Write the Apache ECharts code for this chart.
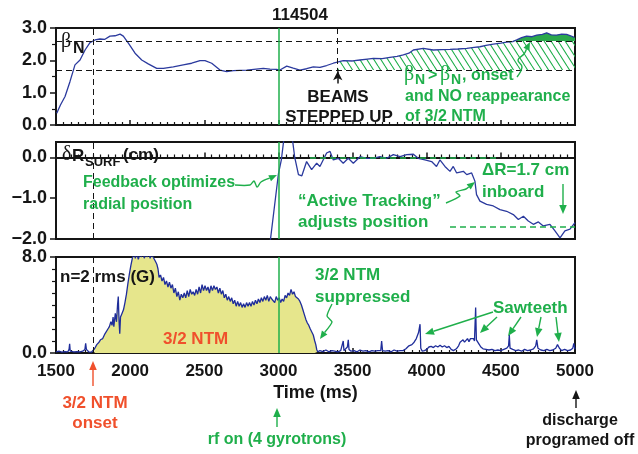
<!DOCTYPE html>
<html><head><meta charset="utf-8">
<script src="https://cdn.jsdelivr.net/npm/echarts@6/dist/echarts.min.js"></script>
<style>html,body{margin:0;padding:0;background:#fff}#c{width:638px;height:454px}</style>
</head><body><div id="c"></div>
<script>
// ---------- data ----------
const xTicks = [1500, 2000, 2500, 3000, 3500, 4000, 4500, 5000];
const betaTicks = [0, 1, 2, 3];
const drTicks = [-2, -1, 0];
const n2Ticks = [0, 8];

const betaT = [1505,1530,1561,1594,1628,1662,1696,1729,1763,1797,1830,1864,1898,1932,1954,1988,2033,2078,2122,2179,2224,2291,2358,2415,2471,2505,2550,2606,2651,2696,2786,2898,2943,2988,3010,3056,3100,3145,3190,3235,3280,3325,3370,3437,3500,3550,3600,3640,3700,3752,3800,3842,3880,3910,3977,4044,4100,4157,4210,4270,4320,4359,4400,4449,4500,4539,4580,4607,4640,4674,4710,4742,4780,4809,4840,4876,4910,4944,4970,4995];
const betaV = [0.36,0.62,0.88,1.34,1.86,2.01,2.32,2.55,2.63,2.66,2.65,2.75,2.76,2.81,2.75,2.53,2.22,2.01,1.89,1.75,1.75,1.80,1.86,1.91,1.99,1.99,1.91,1.70,1.65,1.68,1.70,1.75,1.73,1.72,1.70,1.82,1.76,1.70,1.74,1.80,1.78,1.84,1.91,1.99,1.98,2.01,2.04,2.06,2.05,2.09,2.12,2.17,2.22,2.32,2.37,2.32,2.33,2.34,2.35,2.37,2.40,2.42,2.46,2.50,2.53,2.56,2.58,2.63,2.70,2.75,2.73,2.78,2.80,2.85,2.79,2.78,2.81,2.80,2.76,2.71];
const betaOnset = 1.7;     // lower dashed level
const betaHigh = 2.6;      // upper dashed level
const beamsT = 3400;       // beams stepped up
const ntmOnsetT = 1750;
const rfOnT = 3000;

const drT = [2945,3000,3020,3035,3050,3080,3096,3110,3135,3158,3190,3224,3258,3280,3325,3348,3370,3404,3437,3471,3505,3550,3595,3640,3685,3730,3775,3820,3865,3910,3943,3988,4033,4066,4089,4123,4157,4179,4202,4247,4270,4303,4325,4336,4359,4404,4449,4494,4539,4584,4618,4652,4685,4719,4753,4786,4831,4865,4899,4932,4966,5000];
const drV = [-2.05,-0.40,-0.05,0.40,0.75,0.75,0.40,0.0,-0.42,-0.45,-0.10,-0.30,-0.14,-0.22,0.11,0.15,-0.06,-0.02,-0.14,-0.02,-0.14,0.02,-0.02,-0.02,0.02,-0.02,0.07,0.02,0.07,0.08,-0.02,-0.06,-0.10,-0.22,-0.06,-0.22,-0.34,-0.22,-0.38,-0.34,-0.42,-0.38,-0.58,-0.91,-1.07,-1.15,-1.19,-1.28,-1.32,-1.40,-1.52,-1.44,-1.56,-1.64,-1.58,-1.68,-1.64,-1.80,-1.97,-1.80,-1.76,-1.60];
const drRef0 = [3213, 4494];   // dashed at 0.0
const drRef1 = [4157, 5000];   // dashed at -1.7
const drLow = -1.7;

const n2T = [1500,1520,1540,1560,1580,1588,1592,1596,1620,1640,1660,1680,1695,1700,1705,1720,1740,1760,1775,1790,1800,1815,1830,1840,1850,1860,1870,1878,1885,1890,1900,1908,1915,1920,1925,1930,1935,1945,1955,1965,1975,1985,1995,2005,2015,2025,2035,2045,2055,2065,2075,2085,2095,2105,2115,2125,2135,2145,2155,2165,2172,2180,2188,2195,2205,2215,2225,2235,2245,2255,2265,2275,2285,2295,2305,2315,2325,2335,2345,2355,2365,2375,2385,2395,2405,2415,2425,2435,2445,2455,2465,2475,2485,2495,2505,2515,2525,2535,2545,2555,2565,2575,2585,2595,2605,2615,2625,2635,2645,2655,2665,2675,2685,2695,2705,2715,2725,2735,2745,2755,2765,2775,2785,2795,2805,2815,2825,2835,2845,2855,2865,2875,2885,2895,2905,2915,2925,2935,2945,2955,2965,2975,2985,2995,3005,3015,3025,3035,3045,3055,3065,3075,3085,3095,3105,3115,3125,3135,3145,3155,3165,3175,3185,3195,3205,3215,3225,3235,3245,3252,3258,3265,3280,3300,3320,3340,3360,3380,3400,3420,3432,3437,3442,3455,3465,3471,3476,3490,3510,3530,3550,3570,3590,3610,3630,3650,3670,3690,3696,3702,3720,3740,3760,3780,3800,3820,3840,3860,3880,3900,3915,3930,3945,3955,3960,3970,3985,4000,4015,4030,4045,4060,4075,4090,4105,4120,4135,4150,4165,4180,4200,4215,4225,4235,4245,4255,4265,4275,4285,4295,4305,4315,4322,4330,4335,4345,4355,4365,4380,4400,4420,4440,4460,4480,4500,4520,4540,4552,4557,4562,4580,4600,4620,4640,4660,4680,4700,4720,4735,4742,4750,4770,4790,4810,4830,4850,4870,4882,4888,4895,4910,4930,4950,4970,4985,4992,5000];
const n2V = [0.1,0.15,0.08,0.12,0.1,0.3,0.77,0.15,0.1,0.12,0.1,0.15,0.3,0.8,0.3,0.1,0.08,0.35,0.7,0.9,1.1,1.2,1.6,1.5,2.0,2.2,2.6,2.3,3.0,2.2,3.3,2.6,4.0,4.7,2.7,1.6,3.0,3.3,3.6,4.2,4.9,5.8,6.6,7.3,7.9,8.3,7.9,8.3,7.8,8.2,8.0,8.4,7.9,8.2,8.0,8.3,7.9,8.2,8.0,8.1,7.6,7.4,7.0,6.3,6.5,6.0,6.3,5.7,6.0,5.5,5.9,5.4,5.7,5.0,5.4,4.7,5.1,4.4,4.9,4.6,5.0,4.6,5.2,4.7,5.3,4.9,5.1,4.8,5.3,4.9,5.5,5.0,5.7,5.2,5.6,5.2,5.5,5.0,5.6,5.2,5.6,5.3,5.5,5.0,5.4,4.9,5.2,4.6,4.9,4.4,4.7,4.3,4.6,4.1,4.4,3.9,4.3,3.9,4.2,3.8,4.1,3.8,4.2,3.9,4.2,3.9,4.3,4.0,4.4,4.1,4.5,4.2,4.6,4.3,4.7,4.4,4.8,4.3,4.7,4.5,4.6,4.2,4.7,4.4,4.6,4.2,4.5,4.3,4.8,4.6,5.0,4.8,5.3,4.9,5.1,4.7,4.8,4.5,4.3,4.0,3.6,3.2,2.8,2.5,2.3,2.0,1.9,1.5,1.0,0.7,0.3,0.1,0.2,0.12,0.25,0.1,0.2,0.15,0.1,0.2,0.25,1.0,0.2,0.3,0.5,1.1,0.3,0.15,0.2,0.1,0.25,0.15,0.2,0.1,0.2,0.15,0.2,0.2,1.0,0.2,0.15,0.2,0.1,0.25,0.15,0.2,0.2,0.35,0.6,0.7,0.9,1.2,1.7,2.4,0.4,0.15,0.2,0.3,0.5,0.55,0.45,0.6,0.5,0.65,0.5,0.6,0.45,0.55,0.3,0.2,0.35,0.6,0.9,0.8,1.1,0.9,1.0,1.2,0.95,1.2,1.1,1.2,1.0,3.8,1.1,1.0,0.7,0.5,0.35,0.3,0.25,0.3,0.2,0.25,0.2,0.3,0.4,0.6,1.5,0.4,0.3,0.2,0.25,0.15,0.3,0.2,0.25,0.35,0.6,1.1,0.4,0.25,0.2,0.3,0.2,0.25,0.4,0.7,0.8,0.4,0.2,0.3,0.2,0.25,0.4,0.8,0.3];
const ntmSpan = [1750, 3265];   // yellow-filled NTM interval

// ---------- styles ----------
const FF = "'Liberation Sans', Arial, Helvetica, sans-serif";
const SERIF = "'Liberation Serif', 'DejaVu Serif', serif";
const BLUE = '#2b3a9e', GREEN = '#1faf4b', RED = '#f0502c', YEL = '#e6e68c', INK = '#151515';

const zip = (a, b) => a.map((t, i) => [t, b[i]]);
const fmt = v => (v < 0 ? '\u2212' : '') + Math.abs(v).toFixed(1);

// hatch pattern
const pc = document.createElement('canvas'); pc.width = 7; pc.height = 11;
const pg = pc.getContext('2d'); pg.strokeStyle = GREEN; pg.lineWidth = 1.1;
pg.beginPath(); pg.moveTo(0, 0); pg.lineTo(7, 11); pg.moveTo(-7, 0); pg.lineTo(0, 11); pg.moveTo(7, 0); pg.lineTo(14, 11); pg.stroke();

function interp(ts, vs, t) {
  for (let i = 1; i < ts.length; i++) if (ts[i] >= t) {
    const f = (t - ts[i-1]) / (ts[i] - ts[i-1]); return vs[i-1] + f * (vs[i] - vs[i-1]);
  }
  return vs[vs.length - 1];
}

const grids = [
  { left: 56, top: 28, width: 519, height: 97 },
  { left: 56, top: 142, width: 519, height: 97 },
  { left: 56, top: 257, width: 519, height: 96 }
].map(g => Object.assign(g, { show: true, borderColor: INK, borderWidth: 2, backgroundColor: 'transparent' }));

const xAxes = [0, 1, 2].map(i => ({
  gridIndex: i, type: 'value', min: xTicks[0], max: xTicks[xTicks.length - 1], interval: 500,
  axisLine: { show: true, lineStyle: { color: INK, width: 2 } },
  axisTick: { show: true, inside: true, length: 5, lineStyle: { color: INK, width: 1.5 } },
  minorTick: { show: true, splitNumber: 10, length: 3, lineStyle: { color: INK, width: 1.2 } },
  splitLine: { show: false },
  axisLabel: { show: i === 2, color: INK, fontFamily: FF, fontWeight: 'bold', fontSize: 17, margin: 10, formatter: v => String(v) },
  name: i === 2 ? 'Time (ms)' : '', nameLocation: 'middle', nameGap: 31,
  nameTextStyle: { color: INK, fontFamily: FF, fontWeight: 'bold', fontSize: 18 }
}));

const yBase = (i, min, max, interval, minorSplit) => ({
  gridIndex: i, type: 'value', min, max, interval,
  axisLine: { show: true, lineStyle: { color: INK, width: 2 } },
  axisTick: { show: true, inside: false, length: 6, lineStyle: { color: INK, width: 1.5 } },
  minorTick: { show: minorSplit > 0, splitNumber: minorSplit || 5, length: 4, lineStyle: { color: INK, width: 1.2 } },
  splitLine: { show: false },
  axisLabel: { color: INK, fontFamily: FF, fontWeight: 'bold', fontSize: 18, margin: 9, formatter: fmt, showMaxLabel: i !== 1 }
});
const yAxes = [
  yBase(0, betaTicks[0], betaTicks[betaTicks.length - 1], 1, 2),
  yBase(1, drTicks[0], 0.38, 1, 0),
  yBase(2, n2Ticks[0], n2Ticks[1], 8, 8)
];

const dashK = { color: INK, width: 1, type: [6, 4] };
const vGreen = { xAxis: rfOnT, lineStyle: { color: GREEN, width: 1.5, type: 'solid' } };
const vOnset = { xAxis: ntmOnsetT, lineStyle: dashK };
const ml = (data) => ({ silent: true, symbol: 'none', label: { show: false }, data, animation: false });

const betaHatchRender = (params, api) => {
  const pts = [api.coord([beamsT, betaOnset]), api.coord([beamsT, Math.min(betaHigh, interp(betaT, betaV, beamsT))])];
  betaT.forEach((t, i) => { if (t > beamsT) pts.push(api.coord([t, Math.min(betaHigh, betaV[i])])); });
  pts.push(api.coord([xTicks[xTicks.length - 1], Math.min(betaHigh, betaV[betaV.length - 1])]));
  pts.push(api.coord([xTicks[xTicks.length - 1], betaOnset]));
  return { type: 'polygon', shape: { points: pts }, style: { fill: { image: pc, repeat: 'repeat' } } };
};
const betaSolidRender = (params, api) => {
  const pts = [];
  betaT.forEach((t, i) => { if (t >= 4400) pts.push(api.coord([t, Math.max(betaHigh, betaV[i])])); });
  pts.push(api.coord([xTicks[xTicks.length - 1], Math.max(betaHigh, betaV[betaV.length - 1])]));
  pts.push(api.coord([xTicks[xTicks.length - 1], betaHigh]));
  pts.push(api.coord([4400, betaHigh]));
  return { type: 'polygon', shape: { points: pts }, style: { fill: '#2aa84c' } };
};

const ntmIdx = n2T.map((t, i) => i).filter(i => n2T[i] >= ntmSpan[0] && n2T[i] <= ntmSpan[1]);

const series = [
  { type: 'custom', xAxisIndex: 0, yAxisIndex: 0, data: [[beamsT, betaOnset]], renderItem: betaHatchRender, z: 1, silent: true },
  { type: 'custom', xAxisIndex: 0, yAxisIndex: 0, data: [[beamsT, betaHigh]], renderItem: betaSolidRender, z: 1, silent: true },
  { type: 'line', xAxisIndex: 0, yAxisIndex: 0, data: zip(betaT, betaV), showSymbol: false, z: 3,
    lineStyle: { color: BLUE, width: 1.3 },
    markLine: ml([
      { yAxis: betaHigh, lineStyle: dashK }, { yAxis: betaOnset, lineStyle: dashK }, vOnset, vGreen,
      [{ coord: [beamsT, 3.0], lineStyle: dashK }, { coord: [beamsT, 1.66] }],
      [{ coord: [beamsT, 1.28], symbol: 'none', lineStyle: { color: INK, width: 1.5, type: 'solid' } }, { coord: [beamsT, 1.66], symbol: 'arrow', symbolSize: [7, 9] }]
    ]) },
  { type: 'line', xAxisIndex: 1, yAxisIndex: 1, data: zip(drT, drV), showSymbol: false, z: 3,
    lineStyle: { color: BLUE, width: 1.3 },
    markLine: ml([
      vOnset, vGreen,
      [{ coord: [drRef0[0], 0], lineStyle: { color: GREEN, width: 1.5, type: [6, 4] } }, { coord: [drRef0[1], 0] }],
      [{ coord: [drRef1[0], drLow], lineStyle: { color: GREEN, width: 1.5, type: [6, 4] } }, { coord: [drRef1[1], drLow] }]
    ]) },
  { type: 'line', xAxisIndex: 2, yAxisIndex: 2, data: ntmIdx.map(i => [n2T[i], n2V[i]]), showSymbol: false, z: 1,
    lineStyle: { width: 0 }, areaStyle: { color: YEL, opacity: 1 } },
  { type: 'line', xAxisIndex: 2, yAxisIndex: 2, data: zip(n2T, n2V), showSymbol: false, z: 3,
    lineStyle: { color: '#1f2d9a', width: 1.3 },
    markLine: ml([vOnset, vGreen]) }
];

// ---------- annotations ----------
function T(x, y, text, o) {
  o = o || {};
  return { type: 'text', x, y, z: 100, silent: true, style: {
    text, fill: o.color || INK, font: o.font || ('bold ' + (o.size || 17) + 'px ' + FF),
    align: o.align || 'left', textAlign: o.align || 'left', verticalAlign: 'middle', textVerticalAlign: 'middle' } };
}
function arrow(pts, color, lw, head, smooth) {
  lw = lw || 1.5; head = head || 8;
  const n = pts.length, [x1, y1] = pts[n - 2], [x2, y2] = pts[n - 1];
  const a = Math.atan2(y2 - y1, x2 - x1), hw = head * 0.42;
  const bx = x2 - head * Math.cos(a), by = y2 - head * Math.sin(a);
  const p1 = [bx + hw * Math.sin(a), by - hw * Math.cos(a)], p2 = [bx - hw * Math.sin(a), by + hw * Math.cos(a)];
  return [
    { type: 'polyline', z: 100, silent: true, shape: { points: pts.slice(0, -1).concat([[bx, by]]), smooth: smooth || 0 }, style: { stroke: color, lineWidth: lw, fill: null } },
    { type: 'polygon', z: 100, silent: true, shape: { points: [[x2, y2], p1, p2] }, style: { fill: color } }
  ];
}
const G = (x, y, t, s) => T(x, y, t, { color: GREEN, size: s || 17 });
const betaFont = 'normal 20px ' + SERIF;

const graphics = [
  T(300, 15, '114504', { align: 'center', size: 17 }),
  T(61, 42, 'β', { font: betaFont }), T(73, 49, 'N', { size: 16 }),
  T(338, 97, 'BEAMS', { align: 'center' }), T(339, 117, 'STEPPED UP', { align: 'center' }),
  T(404, 75, 'β', { font: betaFont, color: GREEN }), T(415, 80, 'N', { color: GREEN, size: 14 }),
  G(428, 76, '>', 16),
  T(440, 75, 'β', { font: betaFont, color: GREEN }), T(451, 80, 'N', { color: GREEN, size: 14 }),
  G(462, 76, ', onset', 16),
  G(405, 97, 'and NO reappearance', 16), G(405, 117, 'of 3/2 NTM', 16),
  ...arrow([[517, 77], [522, 67], [518, 60], [524, 54], [530, 42]], GREEN, 1.4, 8, 0.4),

  T(62, 155, 'δ', { font: betaFont }), T(72, 156, 'R', { size: 17 }), T(85, 162, 'SURF', { size: 13 }),
  T(123, 155, '(cm)', { size: 17 }),
  G(83, 183, 'Feedback optimizes', 16), G(83, 205, 'radial position', 16),
  ...arrow([[235, 185], [250, 185], [254, 181], [257, 187], [261, 182], [277, 175]], GREEN, 1.4, 8, 0.3),
  G(298, 201, '\u201CActive Tracking\u201D'), G(298, 222, 'adjusts position'),
  ...arrow([[446, 203], [460, 196], [456, 192], [466, 189], [475, 182]], GREEN, 1.4, 8, 0.2),
  G(482, 170, 'ΔR=1.7 cm'), G(482, 192, 'inboard'),
  ...arrow([[563, 184], [563, 214]], GREEN, 1.4, 9),

  T(60, 277, 'n=2 rms (G)'),
  T(163, 339, '3/2 NTM', { color: RED }),
  G(315, 275, '3/2 NTM'), G(315, 297, 'suppressed'),
  ...arrow([[332, 304], [327, 316], [332, 322], [320, 339]], GREEN, 1.4, 8, 0.2),
  G(493, 308, 'Sawteeth'),
  ...arrow([[493, 312], [425, 334]], GREEN, 1.4, 9),
  ...arrow([[497, 317], [480, 333]], GREEN, 1.4, 9),
  ...arrow([[521, 317], [508, 336]], GREEN, 1.4, 9),
  ...arrow([[541, 317], [537, 337]], GREEN, 1.4, 9),
  ...arrow([[556, 317], [559, 342]], GREEN, 1.4, 9),

  ...arrow([[93, 386], [93, 361]], RED, 1.4, 9),
  T(95, 403, '3/2 NTM', { color: RED, align: 'center' }), T(95, 423, 'onset', { color: RED, align: 'center' }),
  ...arrow([[277, 427], [277, 408]], GREEN, 1.4, 9),
  T(277, 440, 'rf on (4 gyrotrons)', { color: GREEN, align: 'center', size: 16 }),
  ...arrow([[576, 408], [576, 390]], INK, 1.4, 9),
  T(580, 421, 'discharge', { align: 'center', size: 16 }), T(580, 441, 'programed off', { align: 'center', size: 16 })
];

const chart = echarts.init(document.getElementById('c'), null, { renderer: 'canvas' });
chart.setOption({
  animation: false, backgroundColor: '#fff',
  grid: grids, xAxis: xAxes, yAxis: yAxes, series, graphic: { elements: graphics }
});
</script></body></html>
